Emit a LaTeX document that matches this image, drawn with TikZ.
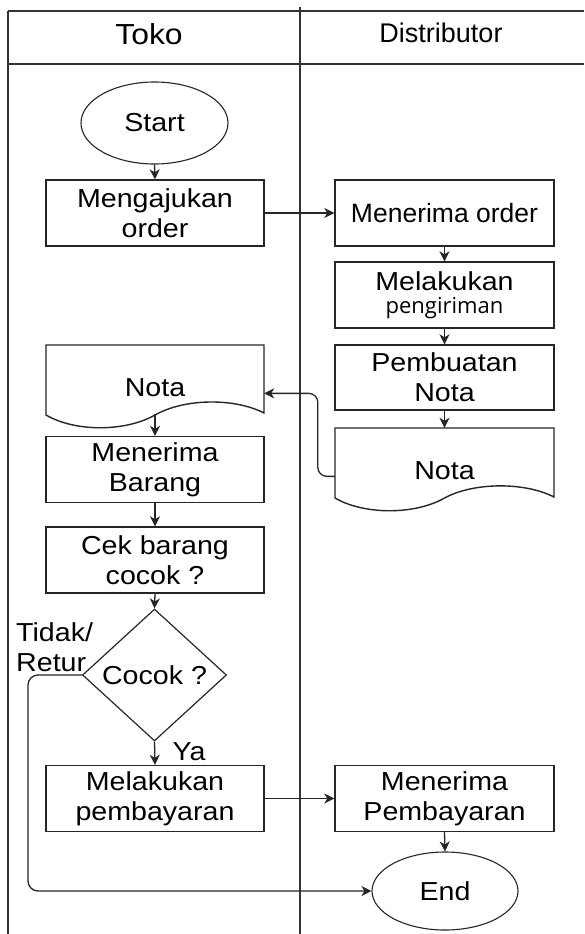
\documentclass[tikz,border=0pt]{standalone}
\usepackage{fontspec}
\setmainfont{Liberation Sans}[FakeStretch=1.1]
\newfontfamily\plainsans{Liberation Sans}
\newfontfamily\opensans{Open Sans}
\usetikzlibrary{shapes.geometric,arrows.meta}
\begin{document}
\begin{tikzpicture}[x=1pt,y=-1pt,
  every node/.style={font=\fontsize{26}{30}\selectfont, text=black},
  lane/.style={line width=1.6pt, draw=black!80},
  procbox/.style={draw=black!85, line width=1.4pt, rectangle, minimum width=218pt, minimum height=66pt, inner sep=0pt, align=center},
  termnode/.style={draw=black!85, line width=1.1pt, ellipse, inner sep=0pt},
  decnode/.style={draw=black!85, line width=1.2pt, diamond, aspect=1.09, minimum width=144pt, minimum height=132pt, inner sep=0pt},
  docnode/.style={rectangle, inner sep=0pt, minimum width=218pt, text height=51pt, text depth=18pt, anchor=base},
  docline/.style={draw=black!85, line width=1.4pt},
  arrow1/.style={draw=black!85, line width=1.3pt, -{Stealth[length=10pt,width=10pt,inset=3pt]}},
]
\useasboundingbox[fill=white] (0,0) rectangle (584,934);

% lanes
\draw[lane] (8,11) -- (584,11);
\draw[lane] (8,64) -- (584,64);
\draw[lane] (8,11) -- (8,934);
\draw[lane] (300,7) -- (300,934);

\node[font=\fontsize{29}{32}\selectfont] (toko) at (149,34) {Toko};
\node[font=\plainsans\fontsize{27}{30}\selectfont] (dist) at (441,33) {Distributor};

% nodes
\node[termnode, minimum width=147pt, minimum height=82pt] (start) at (154.5,123) {Start};
\node[procbox] (ajukan) at (155,213) {Mengajukan\\order};
\node[procbox, minimum width=219pt] (terima) at (444.5,213) {\plainsans\fontsize{26.5}{30}\selectfont Menerima order};
\node[procbox, minimum width=219pt] (kirim) at (444.5,295) {Melakukan\\[-7pt]{\opensans\fontsize{22}{26}\selectfont pengiriman}};
\node[procbox, minimum width=219pt, minimum height=65pt] (buat) at (444.5,377.5) {Pembuatan\\Nota};
\node[docnode] (nota1) at (155,396) {Nota};
\node[docnode, minimum width=219pt] (nota2) at (444.5,479) {Nota};
\node[procbox] (barang) at (155,469.5) {Menerima\\Barang};
\node[procbox] (cek) at (155,560) {Cek barang\\cocok ?};
\node[decnode] (cocok) at (154.5,675) {Cocok ?};
\node[procbox] (bayar) at (155,798.5) {Melakukan\\pembayaran};
\node[procbox, minimum width=219pt] (terimabayar) at (444.5,798.5) {Menerima\\Pembayaran};
\node[termnode, minimum width=146pt, minimum height=78pt] (end) at (445,891) {End};
\node[anchor=west, align=left, inner sep=0pt] (tidak) at (16,647) {Tidak/\\Retur};
\node[inner sep=0pt] (ya) at (189,752) {Ya};

% document shapes
\draw[docline] (46,345) -- (264,345) -- (264,413) .. controls (235,398) and (185,398) .. (155,415) .. controls (125,432) and (75,432) .. (46,415) -- cycle;
\draw[docline] (335,428) -- (554,428) -- (554,497) .. controls (525,482) and (474,482) .. (444.5,498) .. controls (415,515) and (364,515) .. (335,498) -- cycle;

% connectors
\coordinate (retcorner) at (28,891);
\draw[arrow1] (start.south) -- (ajukan.north);
\draw[arrow1] (ajukan.east) -- (terima.west);
\draw[arrow1] (terima.south) -- (kirim.north);
\draw[arrow1] (kirim.south) -- (buat.north);
\draw[arrow1] (buat.south) -- (nota2.north);
\draw[arrow1, rounded corners=9pt] (nota2.mid west) -- ++(-17,0) |- (nota1.mid east);
\draw[arrow1] (nota1.south) -- (barang.north);
\draw[arrow1] (barang.south) -- (cek.north);
\draw[arrow1] (cek.south) -- (cocok.north);
\draw[arrow1] (cocok.south) -- (bayar.north);
\draw[arrow1] (bayar.east) -- (terimabayar.west);
\draw[arrow1] (terimabayar.south) -- (end.north);
\draw[arrow1, rounded corners=10pt] (cocok.west) -| (retcorner) -- (end.west);
\end{tikzpicture}
\end{document}
